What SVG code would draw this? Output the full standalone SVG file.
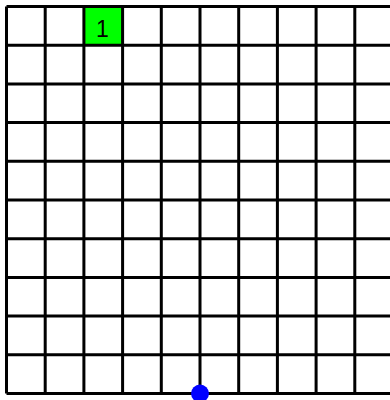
<svg xmlns="http://www.w3.org/2000/svg" width="390" height="400" viewBox="0 0 390 400">
<style>
.g{stroke:#000;stroke-width:3;fill:none}
.t{font-family:"Liberation Sans",Arial,sans-serif;font-size:23px;fill:#000}
</style>
<rect width="390" height="400" fill="#fff"/>
<g id="cell-1">
<rect x="83.9" y="6.5" width="38.7" height="38.7" fill="#00ff00"/>
<text class="t" x="102.5" y="37" text-anchor="middle">1</text>
</g>
<g id="grid" class="g">
<path d="M6.5 6.5V393.5M45.2 6.5V393.5M83.9 6.5V393.5M122.6 6.5V393.5M161.3 6.5V393.5M200 6.5V393.5M238.7 6.5V393.5M277.4 6.5V393.5M316.1 6.5V393.5M354.8 6.5V393.5M393.5 6.5V393.5"/>
<path d="M6.5 6.5H393.5M6.5 45.2H393.5M6.5 83.9H393.5M6.5 122.6H393.5M6.5 161.3H393.5M6.5 200H393.5M6.5 238.7H393.5M6.5 277.4H393.5M6.5 316.1H393.5M6.5 354.8H393.5M6.5 393.5H393.5"/>
</g>
<g id="dot">
<circle cx="200" cy="393.5" r="9" fill="#0000ff"/>
</g>
</svg>
